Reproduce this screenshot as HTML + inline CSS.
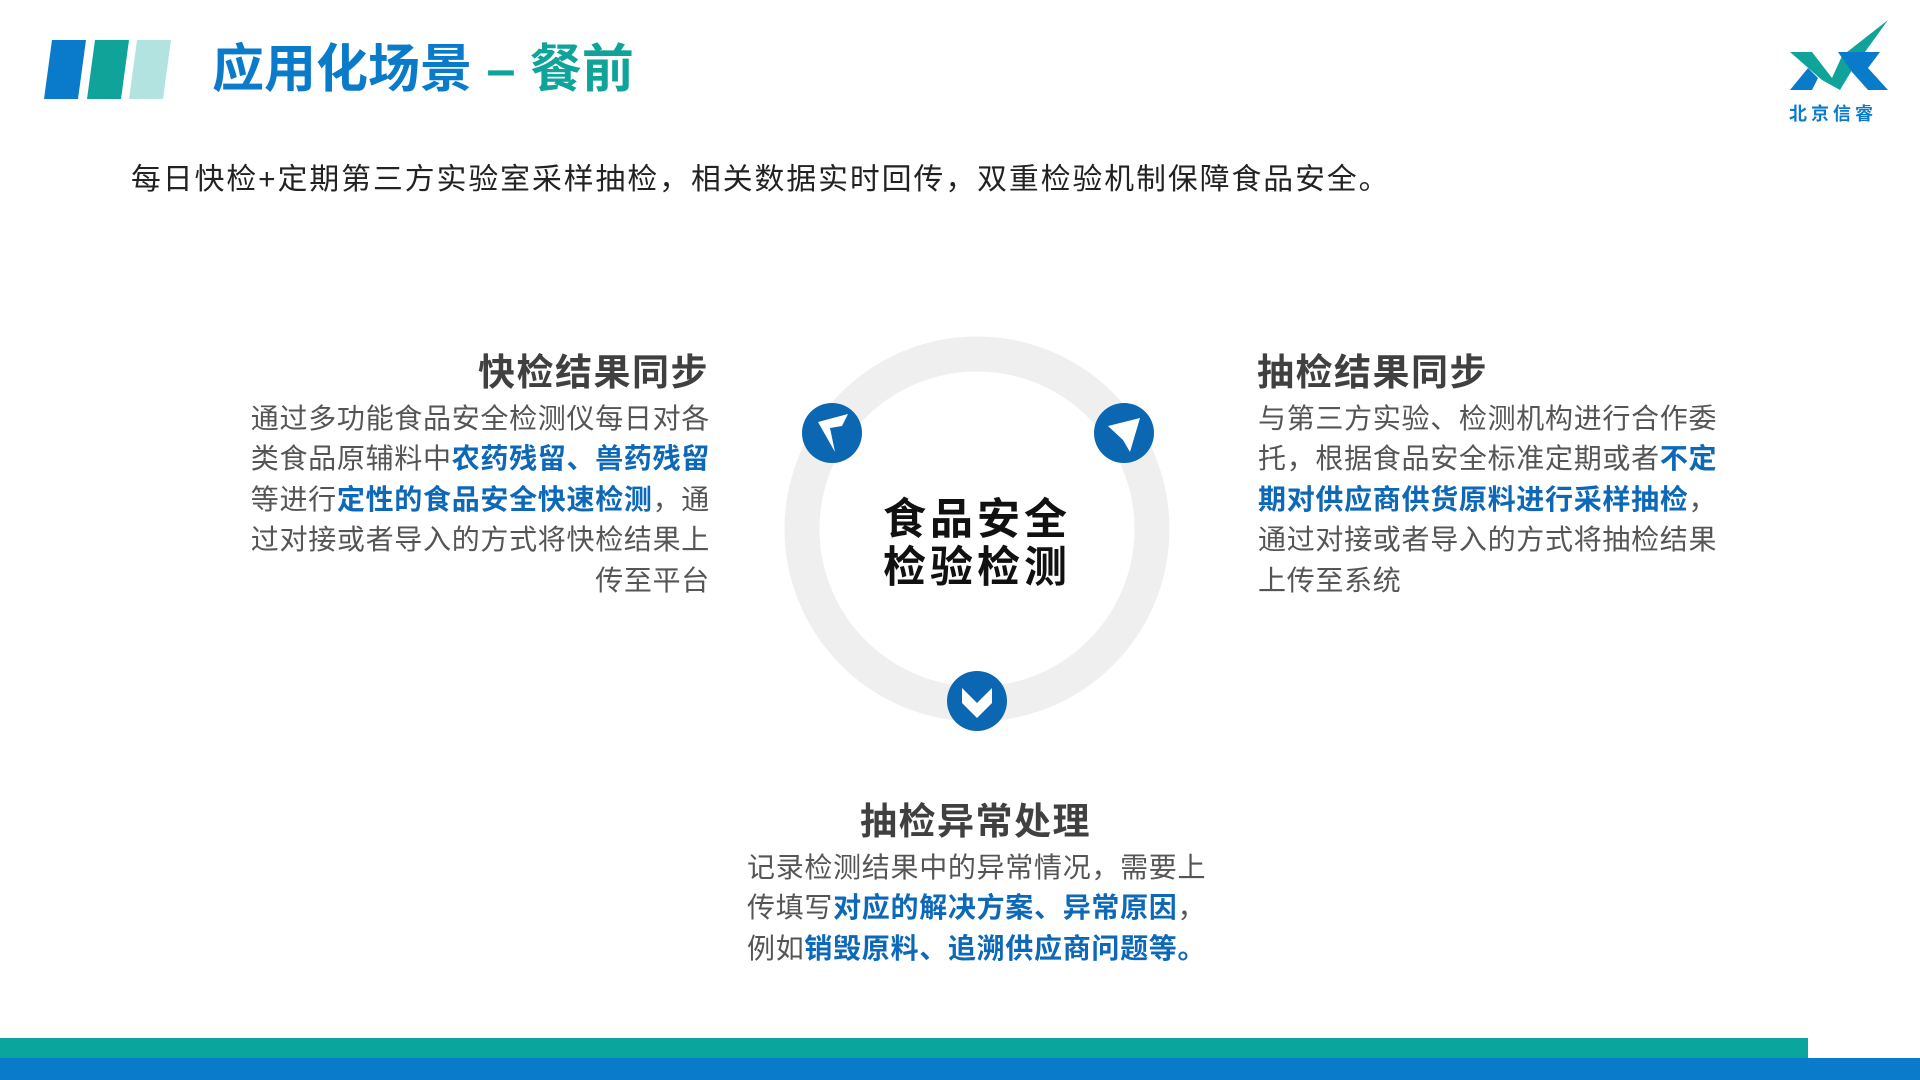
<!DOCTYPE html>
<html><head><meta charset="utf-8"><style>
*{margin:0;padding:0;box-sizing:border-box}
body{width:1920px;height:1080px;background:#fff;position:relative;overflow:hidden;font-family:"Liberation Sans","Noto Sans CJK SC",sans-serif}
.a{position:absolute;white-space:nowrap}
.t{font-size:37px;font-weight:bold;color:#404040;letter-spacing:1.5px}
.b{font-size:28px;color:#555;letter-spacing:0.7px;line-height:40.4px}
.h{color:#0d68b8;font-weight:bold}
</style></head><body>
<svg class="a" style="left:0;top:0" width="1920" height="1080">
<polygon points="52,40 86,40 78,99 44,99" fill="#0a7bca"/>
<polygon points="95,40 129,40 121,99 87,99" fill="#0fa39a"/>
<polygon points="137,40 171,40 163,99 129,99" fill="#b3e3e0"/>
<circle cx="977" cy="529" r="175" fill="none" stroke="#efefef" stroke-width="35"/>
<circle cx="832" cy="433" r="30" fill="#0b67b2"/>
<polygon points="818,422 848,414 842,426 830,428 835,452" fill="#fff"/>
<circle cx="1124" cy="433" r="30" fill="#0b67b2"/>
<polygon points="1108,426 1140,418 1130,452 1123,440" fill="#fff"/>
<circle cx="977" cy="701" r="30" fill="#0b67b2"/>
<polygon points="962,688 977,703 992,688 992,703 977,718 962,703" fill="#fff"/>
<polygon points="1790,52 1812,52 1832,78 1842,56 1888,20 1852,70 1840,90 1822,80" fill="#0fa39a"/>
<polygon points="1790,90 1808,68 1818,78 1812,90" fill="#0a7bca"/>
<polygon points="1838,52 1880,52 1868,68 1888,90 1868,90 1852,72" fill="#0a7bca"/>
<rect x="0" y="1038" width="1808" height="20" fill="#0aa59c"/>
<rect x="0" y="1058" width="1920" height="22" fill="#0a7bca"/>
</svg>
<div class="a" style="left:1789px;top:100px;font-size:18px;font-weight:bold;color:#0a7bca;letter-spacing:4px">北京信睿</div>
<div class="a" style="left:212px;top:38px;font-size:52px;font-weight:bold;color:#0a7bca;line-height:64px">应用化场景 <span style="color:#0fa39a">– 餐前</span></div>
<div class="a" style="left:131px;top:160px;font-size:29.8px;color:#222;line-height:40px;letter-spacing:2px">每日快检+定期第三方实验室采样抽检，相关数据实时回传，双重检验机制保障食品安全。</div>

<div class="a t" style="right:1211px;top:342px">快检结果同步</div>
<div class="a b" style="right:1210px;top:399px;text-align:right">通过多功能食品安全检测仪每日对各<br>类食品原辅料中<span class="h">农药残留、兽药残留</span><br>等进行<span class="h">定性的食品安全快速检测</span>，通<br>过对接或者导入的方式将快检结果上<br>传至平台</div>

<div class="a t" style="left:1257px;top:342px">抽检结果同步</div>
<div class="a b" style="left:1258px;top:399px">与第三方实验、检测机构进行合作委<br>托，根据食品安全标准定期或者<span class="h">不定</span><br><span class="h">期对供应商供货原料进行采样抽检</span>，<br>通过对接或者导入的方式将抽检结果<br>上传至系统</div>

<div class="a" style="left:877px;top:496px;width:200px;text-align:center;font-size:43px;font-weight:bold;color:#111;letter-spacing:4px;line-height:48px">食品安全<br>检验检测</div>

<div class="a t" style="left:860px;top:791px">抽检异常处理</div>
<div class="a b" style="left:747px;top:848px">记录检测结果中的异常情况，需要上<br>传填写<span class="h">对应的解决方案、异常原因</span>，<br>例如<span class="h">销毁原料、追溯供应商问题等。</span></div>
</body></html>
